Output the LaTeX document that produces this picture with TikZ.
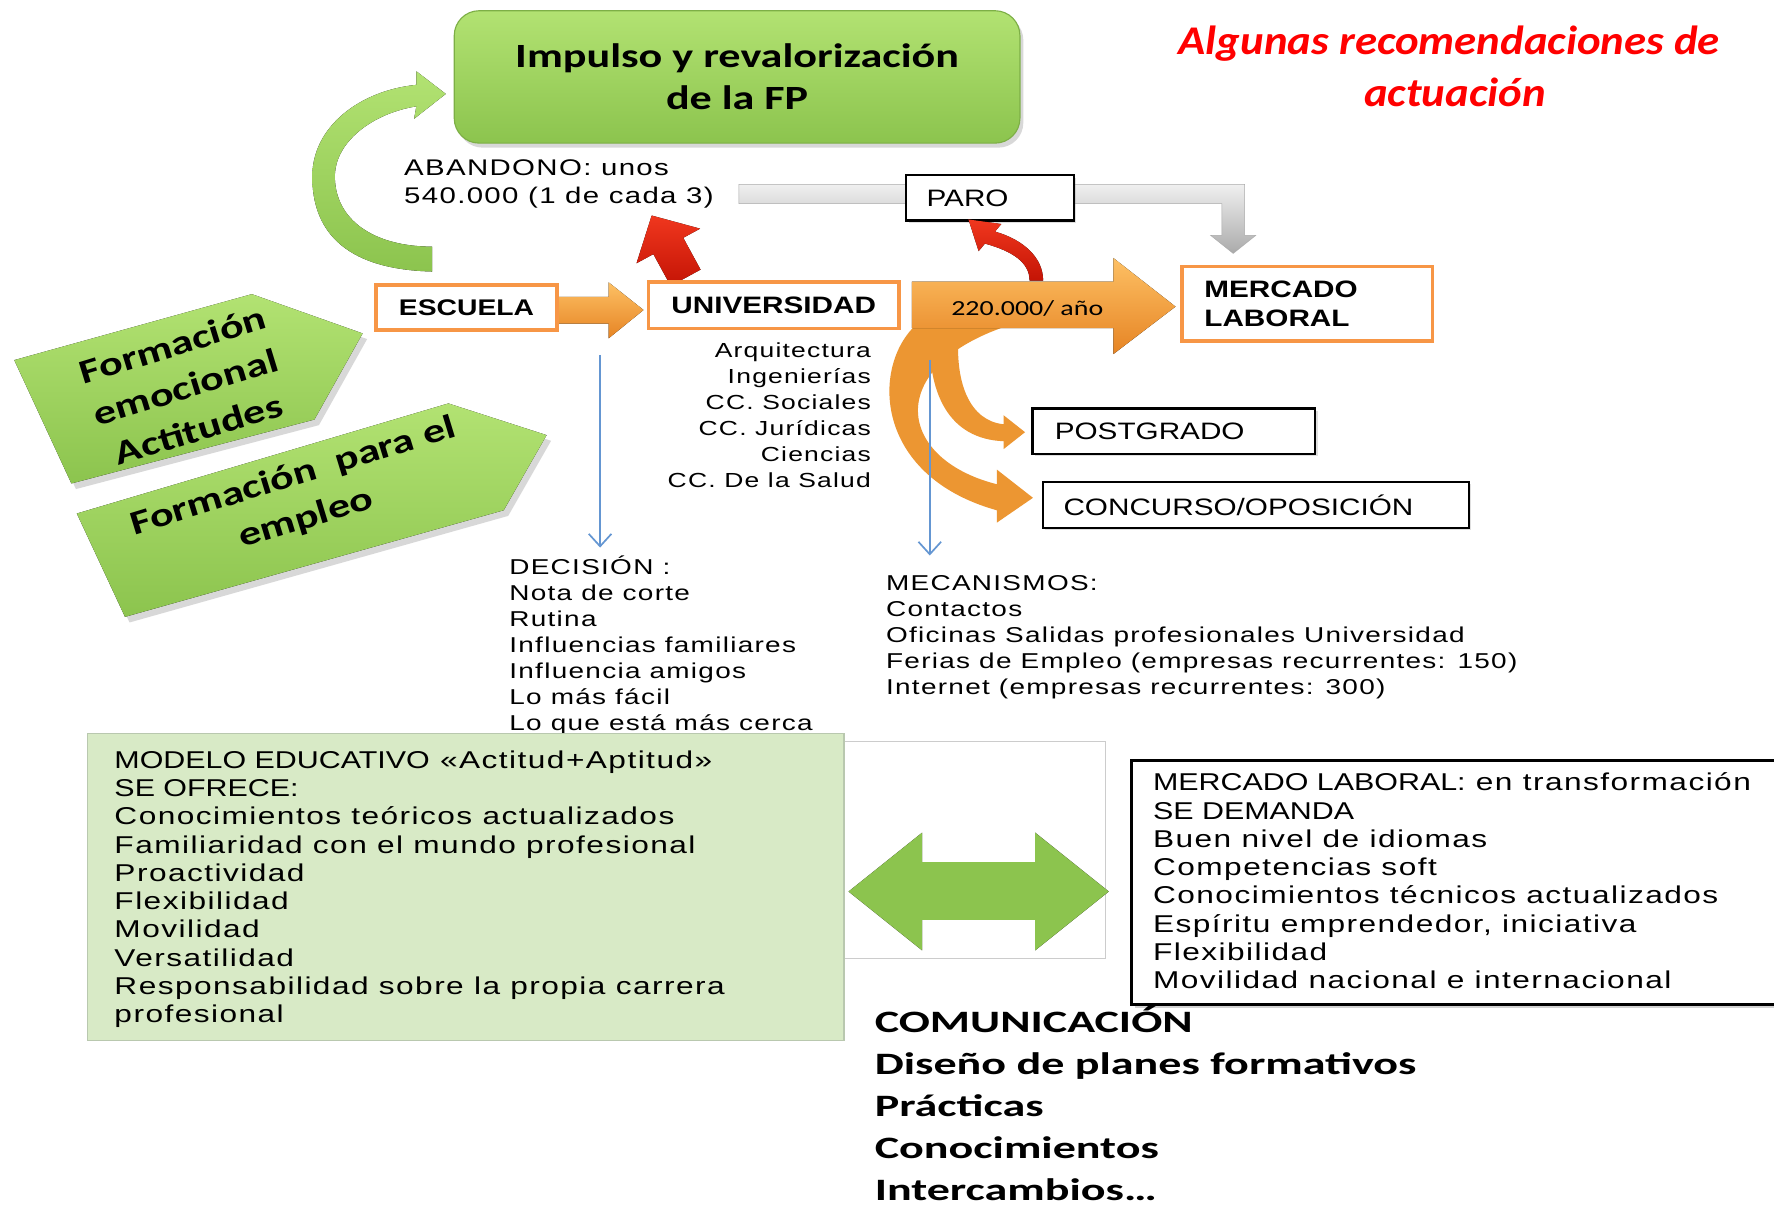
\documentclass[tikz,border=0pt]{standalone}
\usepackage{fontspec}
\setmainfont{Liberation Sans}
\newfontfamily\arsp[FakeStretch=1.3,LetterSpace=6]{Liberation Sans}
\newfontfamily\arbx[FakeStretch=1.25]{Liberation Sans}
\newfontfamily\calf[FakeStretch=1.3]{Carlito}
\newfontfamily\calw[FakeStretch=1.48]{Carlito}
\newfontfamily\calt[FakeStretch=1.1]{Carlito}
\usetikzlibrary{shadows,arrows.meta}
\definecolor{obord}{RGB}{247,150,70}
\definecolor{olight}{RGB}{253,192,100}
\definecolor{odark}{RGB}{230,132,36}
\definecolor{oband}{RGB}{236,150,50}
\definecolor{glight}{RGB}{178,226,114}
\definecolor{gdark}{RGB}{140,196,78}
\definecolor{gedge}{RGB}{125,175,70}
\definecolor{rlight}{RGB}{240,55,30}
\definecolor{rdark}{RGB}{196,20,5}
\definecolor{blu}{RGB}{100,150,210}
\definecolor{pgreen}{RGB}{216,234,198}
\definecolor{pgedge}{RGB}{185,200,175}
\definecolor{titred}{RGB}{255,0,0}
\definecolor{glt}{RGB}{240,240,240}
\definecolor{gdk}{RGB}{170,170,170}
\begin{document}
\begin{tikzpicture}[x=1pt,y=-1pt,
  obox/.style={draw=obord, line width=3pt, fill=white, inner sep=0pt},
  kbox/.style={draw=black, line width=2pt, fill=white, inner sep=0pt,
    drop shadow={opacity=0.25,shadow xshift=2pt,shadow yshift=-2pt}},
  lst/.style={anchor=base west, inner sep=0pt, font=\arsp\fontsize{19}{23}\selectfont},
  lstr/.style={anchor=base east, inner sep=0pt, font=\arsp\fontsize{18}{23}\selectfont},
  blst/.style={anchor=base west, inner sep=0pt, font=\arsp\fontsize{21.5}{25}\selectfont},
  clst/.style={anchor=base west, inner sep=0pt, font=\calw\bfseries\fontsize{27.5}{33}\selectfont},
  oshade/.style={top color=olight, bottom color=odark},
  gshade/.style={top color=glight, bottom color=gdark},
  rshade/.style={top color=rlight, bottom color=rdark},
  pent/.style={gshade, drop shadow={opacity=0.3,shadow xshift=4pt,shadow yshift=-5pt}},
  bluarrow/.style={draw=blu, line width=1.5pt, -{Straight Barb[length=11pt,width=20pt]}},
  ptext/.style={rotate=17, align=center, inner sep=0pt, font=\calf\bfseries\fontsize{30}{39}\selectfont},
]
\useasboundingbox (0,0) rectangle (1568,1067);
\fill[white] (0,0) rectangle (1568,1067);

% curved green arrow
\fill[gshade] (382,240) .. controls (300,238) and (276,200) .. (276,156)
  .. controls (276,112) and (318,80) .. (368,75) -- (368,63) -- (394,83) -- (366,105) -- (368,94)
  .. controls (330,100) and (296,125) .. (296,156) .. controls (296,194) and (330,218) .. (382,218) -- cycle;

% FP box
\node[draw=gedge, line width=1pt, top color=glight, bottom color=gdark, rounded corners=22pt,
  minimum width=500pt, minimum height=117pt, anchor=north west, align=center,
  font=\calf\bfseries\fontsize{30}{37.5}\selectfont,
  drop shadow={opacity=0.3,shadow xshift=3pt,shadow yshift=-4pt}] (fp) at (401,9)
  {Impulso y revalorización\\de la FP};

% title
\node[anchor=base, inner sep=0pt, text=titred, font=\calt\bfseries\itshape\fontsize{36}{40}\selectfont] (tit1) at (1281,48.6) {Algunas recomendaciones de};
\node[anchor=base, inner sep=0pt, text=titred, font=\calt\bfseries\itshape\fontsize{36}{40}\selectfont] (tit2) at (1286,94.3) {actuación};

% abandono text
\node[lst, font=\arsp\fontsize{20}{25}\selectfont] (ab1) at (357,155) {ABANDONO: unos};
\node[lst, font=\arsp\fontsize{20}{25}\selectfont] (ab2) at (357,180) {540.000 (1 de cada 3)};

% grey bent arrow
\draw[draw=gdk, top color=glt, bottom color=gdk] (653,163) -- (1100,163) -- (1100,208) -- (1110,208)
  -- (1090,224) -- (1070,208) -- (1080,208) -- (1080,180) -- (653,180) -- cycle;

% PARO
\node[kbox, anchor=north west, minimum height=40pt, text width=112pt, inner xsep=18pt, align=left,
  font=\arbx\fontsize{21}{25}\selectfont] (paro) at (800,154) {PARO};

% red arrows
\fill[rshade] (619.2,238.3) -- (603.9,210.2) -- (618.8,202.1) -- (576,190.5) -- (562.6,232.7)
  -- (577.5,224.6) -- (592.8,252.7) -- cycle;
\fill[rshade] (922,248) .. controls (922,228) and (905,212) .. (879.5,204.7) -- (885,198) -- (856,194)
  -- (865,222) -- (870.5,215.3) .. controls (895,222) and (910,232) .. (910,248) -- cycle;

% orange curved bands
\fill[oband] (812,285) .. controls (770,320) and (770,420) .. (881,451) -- (881,462) -- (913,440)
  -- (881,415) -- (881,428) .. controls (790,405) and (780,320) .. (900,285) -- cycle;
\fill[oband] (822,285) .. controls (818,350) and (840,388) .. (887,390) -- (887,397) -- (906,382)
  -- (887,367) -- (887,375) .. controls (858,372) and (842,340) .. (848,285) -- cycle;

% big orange arrow
\fill[oshade] (806,249) -- (984,249) -- (984,228) -- (1039,271) -- (984,313) -- (984,290) -- (806,290) -- cycle;
\node[anchor=base, inner sep=0pt, font=\calf\fontsize{19}{23}\selectfont] (flow) at (908,279) {220.000/ año};

% orange arrow escuela -> universidad
\fill[oshade] (489,262.3) -- (538,262.3) -- (538,249.6) -- (568.8,274) -- (538,299) -- (538,286) -- (489,286) -- cycle;

% boxes
\node[obox, anchor=north west, minimum width=159.7pt, minimum height=39.8pt,
  font=\arbx\bfseries\fontsize{20}{24}\selectfont] (esc) at (331,250.5) {ESCUELA};
\node[obox, anchor=north west, minimum width=221.3pt, minimum height=41.2pt,
  font=\arbx\bfseries\fontsize{21}{25}\selectfont] (uni) at (571.7,247.6) {UNIVERSIDAD};
\node[obox, anchor=north west, minimum height=65.7pt, text width=182pt, inner xsep=19.6pt, align=left,
  font=\arbx\bfseries\fontsize{21}{25}\selectfont] (ml) at (1043.4,234.3) {MERCADO\\LABORAL};
\node[kbox, anchor=north west, minimum height=40.4pt, text width=210.6pt, inner xsep=19.7pt, align=left,
  font=\arbx\fontsize{21}{25}\selectfont] (post) at (911.6,360) {POSTGRADO};
\node[kbox, anchor=north west, minimum height=41pt, text width=340.5pt, inner xsep=18pt, align=left,
  font=\arbx\fontsize{21}{25}\selectfont] (conc) at (921,424.8) {CONCURSO/OPOSICIÓN};

% university list
\foreach \t [count=\i from 0] in {Arquitectura, Ingenierías, CC. Sociales, CC. Jurídicas, Ciencias, CC. De la Salud}
  \node[lstr] (u\i) at (770,316+23*\i) {\t};

% pentagons
\fill[pent] (12.6,318.3) -- (222.6,260) -- (320.5,294.7) -- (277.9,370.8) -- (63.1,427.3) -- cycle;
\node[ptext] (fe) at (164,342) {Formación\\emocional\\Actitudes};
\fill[pent] (67.9,453.9) -- (396.3,356.6) -- (483.1,384.6) -- (445.2,451) -- (110.5,545.2) -- cycle;
\node[ptext] (fem) at (265,440) {Formación\ \ para el\\empleo};

% blue arrows
\coordinate (b1s) at (530.4,313.7);
\coordinate (b1e) at (530.4,484);
\coordinate (b2s) at (821.8,318);
\coordinate (b2e) at (821.8,491);
\draw[bluarrow] (b1s) -- (b1e);
\draw[bluarrow] (b2s) -- (b2e);

% decision list
\foreach \t [count=\i from 0] in {DECISIÓN :, Nota de corte, Rutina, Influencias familiares, Influencia amigos, Lo más fácil, Lo que está más cerca}
  \node[lst] (d\i) at (450,508+23*\i) {\t};

% mecanismos list
\foreach \t [count=\i from 0] in {MECANISMOS:, Contactos, Oficinas Salidas profesionales Universidad, Ferias de Empleo (empresas recurrentes: 150), Internet (empresas recurrentes: 300)}
  \node[lst] (m\i) at (783,522+23*\i) {\t};

% bottom: frame, green box, double arrow, right box
\draw[draw=gdk!60, fill=white, line width=0.8pt] (746,655) rectangle (977,847);
\fill[pgreen] (77,648) rectangle (746,920);
\draw[pgedge, line width=1pt] (77,648) rectangle (746,920);
\foreach \t [count=\i from 0] in {{\arbx MODELO EDUCATIVO} «Actitud+Aptitud», {\arbx SE OFRECE:}, Conocimientos teóricos actualizados, Familiaridad con el mundo profesional, Proactividad, Flexibilidad, Movilidad, Versatilidad, Responsabilidad sobre la propia carrera, profesional}
  \node[blst] (l\i) at (101,679+25*\i) {\t};

\fill[top color=gdark, middle color={rgb,255:red,205;green,240;blue,150}, bottom color=gdark]
  (750,788) -- (815,736) -- (815,762) -- (915,762) -- (915,736) -- (980,788) -- (915,840) -- (915,813)
  -- (815,813) -- (815,840) -- cycle;

\draw[draw=black, line width=3pt, fill=white, drop shadow={opacity=0.35,shadow xshift=3pt,shadow yshift=-3pt}]
  (1000,672) rectangle (1585,888);
\foreach \t [count=\i from 0] in {{\arbx MERCADO LABORAL:} en transformación, {\arbx SE DEMANDA}, Buen nivel de idiomas, Competencias soft, Conocimientos técnicos actualizados, {Espíritu emprendedor, iniciativa}, Flexibilidad, Movilidad nacional e internacional}
  \node[blst] (r\i) at (1019,699+25*\i) {\t};

% bottom bold list
\foreach \t/\yy [count=\i from 0] in {COMUNICACIÓN/913, Diseño de planes formativos/950, Prácticas/987, Conocimientos/1024, Intercambios…/1061}
  \node[clst] (c\i) at (773,\yy) {\t};
\end{tikzpicture}
\end{document}
